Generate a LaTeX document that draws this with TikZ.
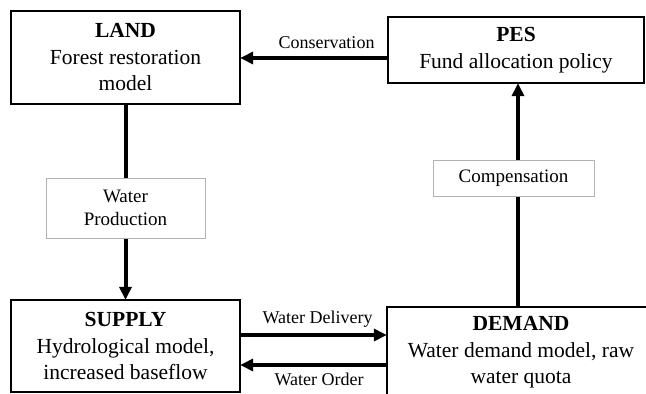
\documentclass[tikz,border=0pt]{standalone}
\usepackage{fontspec}
\setmainfont{Liberation Serif}
\usetikzlibrary{arrows.meta}

\tikzset{
  model/.style={draw=black, line width=1.3pt, fill=white, align=center,
    inner sep=0pt, font=\fontsize{21.5}{26.5}\selectfont},
  tag/.style={draw=black!30, line width=0.8pt, fill=white, align=center,
    inner sep=0pt, font=\fontsize{19}{23}\selectfont},
  lbl/.style={inner sep=0pt, anchor=base, font=\fontsize{18}{22}\selectfont},
  flow/.style={line width=4pt, -{Triangle[length=13pt,width=12pt]}, shorten >=-0.5pt},
}

\begin{document}
\begin{tikzpicture}[x=1pt, y=-1pt]
  \useasboundingbox (0,0) rectangle (646,394);
  \clip (0,0) rectangle (646,394);

  % model blocks
  \node[model, minimum width=229, minimum height=93] (land) at (125.5,57.5)
    {\textbf{LAND}\\Forest restoration\\model};
  \node[model, minimum width=256, minimum height=66] (pes) at (516,50)
    {\textbf{PES}\\Fund allocation policy};
  \node[model, minimum width=229, minimum height=92] (supply) at (125.5,346)
    {\textbf{SUPPLY}\\Hydrological model,\\increased baseflow};
  \node[model, minimum width=268, minimum height=91] (demand) at (521,352.5)
    {\textbf{DEMAND}\\Water demand model, raw\\water quota};

  % helper points for the connector heights
  \coordinate (cons) at (0,58);
  \coordinate (dlv) at (0,335);
  \coordinate (ord) at (0,365);
  \coordinate (comp) at (518,0);

  % connectors
  \draw[flow] (pes.west |- cons) -- (land.east |- cons);
  \draw[flow] (land.south) -- (supply.north);
  \draw[flow] (supply.east |- dlv) -- (demand.west |- dlv);
  \draw[flow] (demand.west |- ord) -- (supply.east |- ord);
  \draw[flow] (comp |- demand.north) -- (comp |- pes.south);

  % boxed labels sitting on the vertical connectors
  \node[tag, minimum width=159, minimum height=60] (wprod) at (125.5,208)
    {Water\\Production};
  \node[tag, minimum width=161, minimum height=36] (wcomp) at (513.5,178)
    {Compensation};

  % plain labels on the horizontal connectors
  \node[lbl] (tcons) at (326.5,48) {Conservation};
  \node[lbl] (tdlv) at (317.5,323) {Water Delivery};
  \node[lbl] (tord) at (319,385) {Water Order};
\end{tikzpicture}
\end{document}
